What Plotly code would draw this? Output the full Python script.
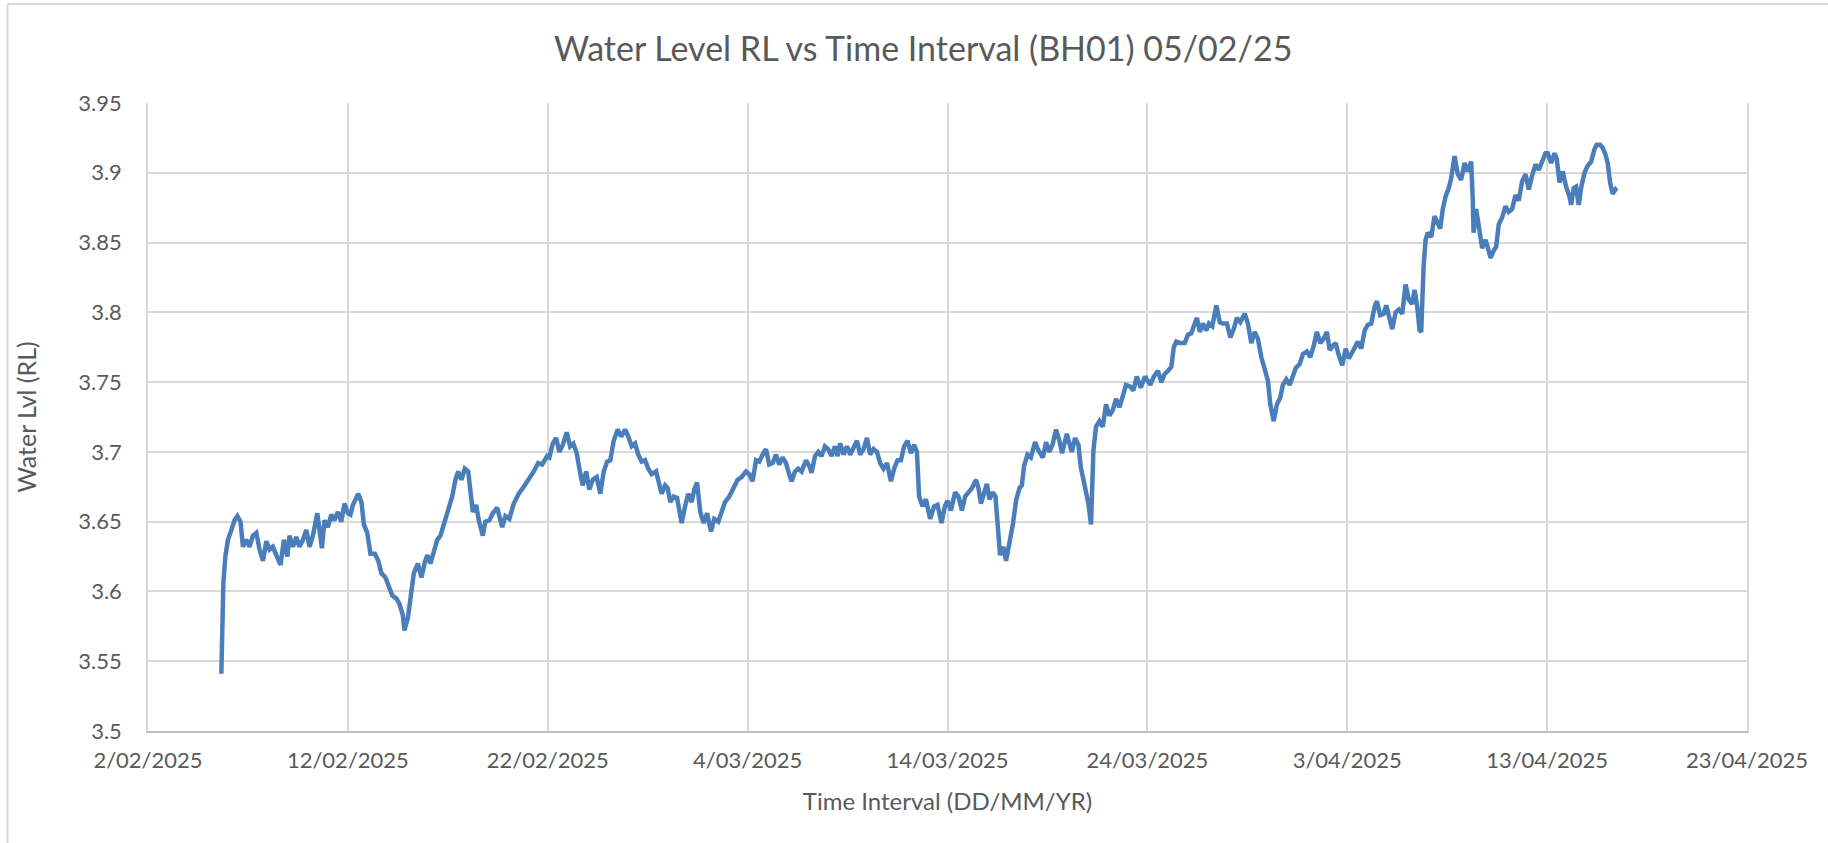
import pandas as pd
import plotly.graph_objects as go

# ---------------- data ----------------
START_DATE = "2025-02-02"

# days after 2/02/2025 for each logged reading
day_offset = [
    3.67, 3.70, 3.77, 3.87, 4.00, 4.17, 4.33, 4.47, 4.63, 4.75, 4.92, 5.08, 5.25, 5.42,
    5.58, 5.75, 5.92, 6.08, 6.25, 6.42, 6.63, 6.80, 6.97, 7.08, 7.25, 7.42, 7.58, 7.75,
    7.92, 8.08, 8.25, 8.47, 8.58, 8.70, 8.83, 9.00, 9.17, 9.33, 9.50, 9.67, 9.83, 10.00,
    10.13, 10.25, 10.52, 10.68, 10.80, 10.97, 11.13, 11.35, 11.52, 11.68, 11.88, 12.05,
    12.22, 12.42, 12.58, 12.75, 12.83, 13.00, 13.13, 13.30, 13.50, 13.68, 13.85, 13.98,
    14.13, 14.30, 14.47, 14.63, 14.85, 15.05, 15.22, 15.38, 15.52, 15.68, 15.85, 16.02,
    16.13, 16.25, 16.42, 16.55, 16.75, 16.88, 17.08, 17.25, 17.47, 17.72, 17.88, 18.08,
    18.30, 18.55, 18.80, 19.05, 19.30, 19.52, 19.72, 19.97,
    20.08, 20.25, 20.42, 20.58, 20.75, 20.95, 21.12, 21.28, 21.45, 21.62, 21.75, 21.92,
    22.08, 22.25, 22.45, 22.63, 22.80, 22.97, 23.13, 23.30, 23.50, 23.67, 23.87, 24.03,
    24.20, 24.37, 24.53, 24.70, 24.87, 25.03, 25.20, 25.42, 25.58, 25.70, 25.87, 26.00,
    26.13, 26.30, 26.47, 26.70, 26.87, 27.03, 27.20, 27.33, 27.47, 27.63, 27.80, 27.97,
    28.17, 28.33, 28.53, 28.70, 28.87, 29.08, 29.30, 29.50, 29.70, 29.92,
    30.08, 30.25, 30.42, 30.58, 30.75, 30.92, 31.08, 31.25, 31.42, 31.58, 31.75, 31.92,
    32.08, 32.20, 32.37, 32.53, 32.70, 32.92, 33.08, 33.20, 33.37, 33.53, 33.70, 33.87,
    34.03, 34.20, 34.37, 34.50, 34.63, 34.80, 34.97, 35.13, 35.30, 35.47, 35.63, 35.80,
    35.97, 36.13, 36.30, 36.47, 36.63, 36.80, 36.97, 37.17, 37.33, 37.50, 37.67, 37.83,
    38.00, 38.17, 38.33, 38.47, 38.58, 38.75, 38.92, 39.13, 39.33, 39.50, 39.70, 39.87,
    40.00, 40.17, 40.38, 40.55, 40.72, 40.88, 41.05, 41.22, 41.43, 41.55, 41.67, 41.83,
    41.97, 42.10, 42.27, 42.40, 42.52, 42.63, 42.80, 42.93, 43.10, 43.27, 43.43, 43.60,
    43.72, 43.83, 44.00, 44.17, 44.38, 44.55, 44.77, 44.93, 45.10, 45.27, 45.43, 45.60,
    45.73, 45.97, 46.10, 46.22, 46.38, 46.55, 46.67, 46.88, 47.05, 47.18, 47.30, 47.43,
    47.60, 47.77, 47.93, 48.10, 48.27, 48.43, 48.60, 48.77, 48.93, 49.13, 49.30, 49.47,
    49.67, 49.88,
    50.15, 50.32, 50.53, 50.70, 50.87, 51.03, 51.20, 51.32, 51.45, 51.65, 51.87, 52.03,
    52.20, 52.32, 52.48, 52.62, 52.78, 52.95, 53.08, 53.25, 53.45, 53.62, 53.78, 53.98,
    54.15, 54.32, 54.48, 54.65, 54.87, 55.03, 55.20, 55.37, 55.53, 55.70, 55.87, 56.03,
    56.15, 56.32, 56.48, 56.65, 56.78, 56.95, 57.12, 57.28, 57.42, 57.62, 57.78, 57.98,
    58.15, 58.32, 58.48, 58.65, 58.82, 58.98, 59.12, 59.28, 59.42, 59.58, 59.75, 59.92,
    60.08, 60.20, 60.37, 60.53, 60.70, 60.87, 61.03, 61.20, 61.37, 61.48, 61.65, 61.82,
    61.95, 62.12, 62.25, 62.42, 62.58, 62.75, 62.92, 63.08, 63.25, 63.37, 63.50, 63.62,
    63.70, 63.82, 63.92, 64.03, 64.20, 64.37, 64.53, 64.65, 64.78, 64.92, 65.08, 65.20,
    65.37, 65.53, 65.70, 65.87, 66.03, 66.20, 66.28, 66.32, 66.45, 66.58, 66.75, 66.92,
    67.03, 67.17, 67.32, 67.45, 67.58, 67.75, 67.92, 68.08, 68.25, 68.42, 68.58, 68.75,
    68.92, 69.08, 69.25, 69.42, 69.58, 69.75, 69.92,
    70.03, 70.20, 70.37, 70.48, 70.62, 70.78, 70.95, 71.12, 71.20, 71.33, 71.45, 71.58,
    71.70, 71.87, 72.03, 72.20, 72.37, 72.48, 72.65, 72.78, 72.92, 73.03, 73.15, 73.28,
    73.42, 73.48,
]

# water level RL (m) for each reading
water_level = [
    3.541, 3.574, 3.606, 3.625, 3.637, 3.644, 3.651, 3.654, 3.650, 3.632, 3.637, 3.632, 3.640, 3.642,
    3.630, 3.622, 3.636, 3.630, 3.632, 3.626, 3.619, 3.637, 3.625, 3.640, 3.632, 3.639, 3.632, 3.637,
    3.644, 3.632, 3.640, 3.656, 3.646, 3.631, 3.651, 3.646, 3.655, 3.651, 3.657, 3.650, 3.663, 3.656,
    3.655, 3.662, 3.670, 3.664, 3.648, 3.642, 3.627, 3.627, 3.622, 3.613, 3.610, 3.603,
    3.597, 3.595, 3.591, 3.583, 3.572, 3.581, 3.598, 3.613, 3.620, 3.610, 3.621, 3.626,
    3.620, 3.630, 3.637, 3.640, 3.651, 3.662, 3.668, 3.680, 3.686, 3.680, 3.688, 3.686,
    3.668, 3.657, 3.662, 3.651, 3.640, 3.650, 3.651, 3.656, 3.660, 3.646, 3.654, 3.652,
    3.663, 3.670, 3.675, 3.680, 3.686, 3.692, 3.691, 3.697,
    3.696, 3.706, 3.710, 3.700, 3.705, 3.714, 3.704, 3.706, 3.699, 3.685, 3.676, 3.686,
    3.673, 3.680, 3.682, 3.670, 3.686, 3.693, 3.694, 3.708, 3.716, 3.711, 3.716, 3.711,
    3.704, 3.706, 3.698, 3.693, 3.694, 3.688, 3.684, 3.686, 3.678, 3.670, 3.676, 3.674,
    3.664, 3.668, 3.667, 3.649, 3.661, 3.670, 3.664, 3.673, 3.678, 3.657, 3.649, 3.656,
    3.643, 3.652, 3.650, 3.656, 3.664, 3.668, 3.674, 3.680, 3.682, 3.686,
    3.684, 3.679, 3.694, 3.693, 3.698, 3.702, 3.691, 3.692, 3.698, 3.691, 3.696, 3.692,
    3.684, 3.679, 3.686, 3.688, 3.686, 3.694, 3.690, 3.685, 3.697, 3.700, 3.697, 3.704,
    3.702, 3.697, 3.704, 3.697, 3.706, 3.698, 3.704, 3.698, 3.703, 3.708, 3.698, 3.702,
    3.710, 3.698, 3.702, 3.700, 3.692, 3.688, 3.692, 3.679, 3.688, 3.694, 3.694, 3.704,
    3.708, 3.699, 3.705, 3.700, 3.668, 3.661, 3.666, 3.652, 3.661, 3.662, 3.649, 3.661,
    3.665, 3.658, 3.671, 3.668, 3.658, 3.668, 3.671, 3.674, 3.680, 3.674, 3.663, 3.671,
    3.677, 3.666, 3.671, 3.668, 3.648, 3.626, 3.632, 3.622, 3.635, 3.648, 3.665, 3.674,
    3.676, 3.690, 3.698, 3.696, 3.707, 3.701, 3.696, 3.707, 3.700, 3.706, 3.716, 3.708,
    3.699, 3.713, 3.706, 3.700, 3.710, 3.705, 3.689, 3.675, 3.663, 3.648, 3.701, 3.718,
    3.722, 3.718, 3.734, 3.726, 3.730, 3.738, 3.732, 3.740, 3.748, 3.747, 3.744, 3.754,
    3.746, 3.754,
    3.748, 3.754, 3.758, 3.750, 3.756, 3.758, 3.761, 3.775, 3.779, 3.778, 3.778, 3.784,
    3.785, 3.790, 3.796, 3.786, 3.792, 3.787, 3.792, 3.790, 3.805, 3.793, 3.792, 3.792,
    3.782, 3.788, 3.796, 3.793, 3.799, 3.792, 3.778, 3.786, 3.781, 3.768, 3.758, 3.751,
    3.734, 3.722, 3.734, 3.739, 3.748, 3.752, 3.748, 3.754, 3.760, 3.763, 3.770, 3.772,
    3.768, 3.776, 3.786, 3.778, 3.781, 3.786, 3.773, 3.776, 3.778, 3.769, 3.762, 3.774,
    3.767, 3.770, 3.775, 3.779, 3.774, 3.787, 3.791, 3.792, 3.804, 3.808, 3.798, 3.799,
    3.805, 3.794, 3.788, 3.800, 3.802, 3.799, 3.820, 3.809, 3.806, 3.816, 3.804, 3.787,
    3.786, 3.833, 3.852, 3.857, 3.854, 3.869, 3.864, 3.860, 3.874, 3.883, 3.889, 3.896,
    3.912, 3.899, 3.895, 3.907, 3.901, 3.908, 3.881, 3.857, 3.874, 3.862, 3.846, 3.852,
    3.845, 3.839, 3.844, 3.847, 3.863, 3.868, 3.876, 3.872, 3.874, 3.884, 3.880, 3.894,
    3.899, 3.888, 3.898, 3.906, 3.902, 3.908, 3.914,
    3.914, 3.907, 3.914, 3.910, 3.893, 3.901, 3.890, 3.883, 3.877, 3.889, 3.890, 3.877,
    3.889, 3.900, 3.905, 3.908, 3.917, 3.920, 3.920, 3.918, 3.913, 3.907, 3.893, 3.885,
    3.888, 3.887,
]

x_tick_dates = ["2025-02-02", "2025-02-12", "2025-02-22", "2025-03-04", "2025-03-14",
                "2025-03-24", "2025-04-03", "2025-04-13", "2025-04-23"]
x_tick_labels = ["2/02/2025", "12/02/2025", "22/02/2025", "4/03/2025", "14/03/2025",
                 "24/03/2025", "3/04/2025", "13/04/2025", "23/04/2025"]
y_tick_values = [3.5, 3.55, 3.6, 3.65, 3.7, 3.75, 3.8, 3.85, 3.9, 3.95]
y_tick_labels = ["3.5", "3.55", "3.6", "3.65", "3.7", "3.75", "3.8", "3.85", "3.9", "3.95"]

TITLE = "Water Level RL vs Time Interval (BH01) 05/02/25"
X_TITLE = "Time Interval (DD/MM/YR)"
Y_TITLE = "Water Lvl (RL)"

# ---------------- figure ----------------
times = pd.Timestamp(START_DATE) + pd.to_timedelta(day_offset, unit="D")

W, H = 1828, 843
ML, MR, MT, MB = 148, 81, 103, 112
FONT = "Lato, 'Open Sans', sans-serif"
TXT = "#595959"
GRID = "#D9D9D9"

fig = go.Figure(
    go.Scatter(
        x=times,
        y=water_level,
        mode="lines",
        line=dict(color="#4a7ebb", width=4.5),
        name="BH01",
    )
)

pw = W - ML - MR
ph = H - MT - MB


def px_x(p):
    return (p - ML) / pw


def px_y(p):
    return (H - MB - p) / ph


# light chart-area border (top and left edges visible)
fig.add_shape(type="line", xref="paper", yref="paper",
              x0=px_x(7.5), x1=px_x(W + 5), y0=px_y(4), y1=px_y(4),
              line=dict(color=GRID, width=2))
fig.add_shape(type="line", xref="paper", yref="paper",
              x0=px_x(7.5), x1=px_x(7.5), y0=px_y(4), y1=px_y(H + 5),
              line=dict(color=GRID, width=2))

fig.update_layout(
    width=W,
    height=H,
    margin=dict(l=ML, r=MR, t=MT, b=MB),
    paper_bgcolor="white",
    plot_bgcolor="white",
    showlegend=False,
    font=dict(family=FONT, color=TXT),
    title=dict(
        text=TITLE,
        font=dict(family=FONT, size=34, color=TXT),
        x=0.505, xref="container", xanchor="center",
        y=1 - 49 / H, yref="container", yanchor="middle",
    ),
    xaxis=dict(
        type="date",
        range=[x_tick_dates[0], x_tick_dates[-1]],
        tickmode="array",
        tickvals=x_tick_dates,
        ticktext=x_tick_labels,
        showgrid=True,
        gridcolor=GRID,
        gridwidth=1.5,
        showline=True,
        linecolor="#BFBFBF",
        linewidth=2,
        ticks="",
        ticklabelstandoff=9,
        tickfont=dict(family=FONT, size=22, color=TXT),
        title=dict(text=X_TITLE, font=dict(family=FONT, size=24, color=TXT), standoff=21),
        zeroline=False,
    ),
    yaxis=dict(
        range=[3.5, 3.95],
        tickmode="array",
        tickvals=y_tick_values,
        ticktext=y_tick_labels,
        showgrid=True,
        gridcolor=GRID,
        gridwidth=1.5,
        showline=True,
        linecolor=GRID,
        linewidth=1.5,
        mirror=True,
        ticks="",
        ticklabelstandoff=20,
        tickfont=dict(family=FONT, size=22, color=TXT),
        title=dict(text=Y_TITLE, font=dict(family=FONT, size=25, color=TXT), standoff=35),
        zeroline=False,
    ),
)

# the page body otherwise adds an 8px offset around the figure
fig.write_html(
    "out.html",
    config={"displayModeBar": False},
    post_script="document.body.style.margin='0';",
)
